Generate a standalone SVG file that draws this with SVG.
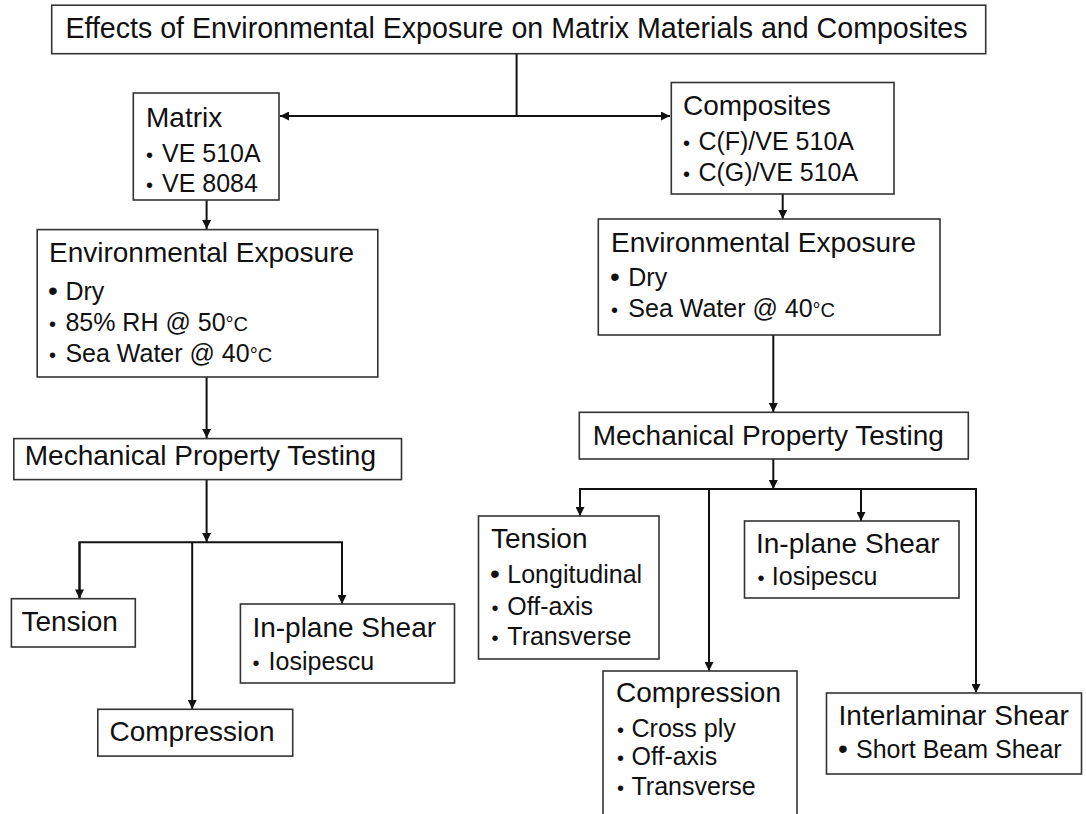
<svg xmlns="http://www.w3.org/2000/svg" width="1086" height="814" viewBox="0 0 1086 814">
<style>
.box{fill:#fff;stroke:#333;stroke-width:1.6}
text{font-family:"Liberation Sans",Arial,sans-serif;fill:#111}
.h{font-size:28px}
.s{font-size:25px}
.b{font-size:20px}
.bb{font-size:28px}
.deg{font-size:20px}
.con{stroke:#111;stroke-width:2;fill:none}
</style>
<defs>
<marker id="ah" viewBox="0 0 10 10" refX="10" refY="5" markerWidth="10" markerHeight="9" markerUnits="userSpaceOnUse" orient="auto-start-reverse">
<path d="M0,0 L10,5 L0,10 z" fill="#111"/>
</marker>
</defs>
<rect width="1086" height="814" fill="#fff"/>

<g id="connectors">
<path class="con" d="M516.6,54 V116"/>
<path class="con" d="M280,116 H670" marker-start="url(#ah)" marker-end="url(#ah)"/>
<path class="con" d="M206.6,200 V229" marker-end="url(#ah)"/>
<path class="con" d="M782.7,194 V219" marker-end="url(#ah)"/>
<path class="con" d="M206.6,377 V438" marker-end="url(#ah)"/>
<path class="con" d="M773.3,335 V412" marker-end="url(#ah)"/>
<path class="con" d="M206.6,480 V542" marker-end="url(#ah)"/>
<path class="con" d="M79.5,599 V542.3 H342 V604" marker-end="url(#ah)"/>
<path class="con" d="M79.5,542.3 V598.5" marker-end="url(#ah)"/>
<path class="con" d="M192.2,542.3 V709" marker-end="url(#ah)"/>
<path class="con" d="M773.3,459 V489" marker-end="url(#ah)"/>
<path class="con" d="M580,516 V489 H976 V693" marker-end="url(#ah)"/>
<path class="con" d="M580,489 V516" marker-end="url(#ah)"/>
<path class="con" d="M709,489 V671" marker-end="url(#ah)"/>
<path class="con" d="M861,489 V521" marker-end="url(#ah)"/>
</g>

<g id="title">
<rect class="box" x="51.7" y="5.2" width="934" height="48.5"/>
<text class="h" x="65.4" y="38" style="font-size:28.6px">Effects of Environmental Exposure on Matrix Materials and Composites</text>
</g>

<g id="matrix">
<rect class="box" x="133.3" y="93" width="145.7" height="107"/>
<text class="h" x="146" y="127">Matrix</text>
<text class="s" y="162"><tspan class="b" x="146">•</tspan><tspan x="162">VE 510A</tspan></text>
<text class="s" y="192"><tspan class="b" x="146">•</tspan><tspan x="162">VE 8084</tspan></text>
</g>

<g id="composites">
<rect class="box" x="671.3" y="82.5" width="222.7" height="111.5"/>
<text class="h" x="683" y="115">Composites</text>
<text class="s" y="150"><tspan class="b" x="683">•</tspan><tspan x="698.4">C(F)/VE 510A</tspan></text>
<text class="s" y="181"><tspan class="b" x="683">•</tspan><tspan x="698.4">C(G)/VE 510A</tspan></text>
</g>

<g id="env-left">
<rect class="box" x="37.2" y="229.6" width="340.6" height="147.4"/>
<text class="h" x="49" y="262">Environmental Exposure</text>
<text class="s" y="299.5"><tspan class="bb" x="48">•</tspan><tspan x="65.4">Dry</tspan></text>
<text class="s" y="331"><tspan class="b" x="49">•</tspan><tspan x="65.4">85% RH @ 50<tspan class="deg">°C</tspan></tspan></text>
<text class="s" y="362"><tspan class="b" x="49">•</tspan><tspan x="65.4">Sea Water @ 40<tspan class="deg">°C</tspan></tspan></text>
</g>

<g id="env-right">
<rect class="box" x="598.3" y="219" width="341.7" height="116"/>
<text class="h" x="611" y="252">Environmental Exposure</text>
<text class="s" y="286"><tspan class="bb" x="610">•</tspan><tspan x="628.3">Dry</tspan></text>
<text class="s" y="317"><tspan class="b" x="611">•</tspan><tspan x="628.3">Sea Water @ 40<tspan class="deg">°C</tspan></tspan></text>
</g>

<g id="mpt-left">
<rect class="box" x="13.8" y="438.6" width="387.7" height="41"/>
<text class="h" x="24.8" y="465">Mechanical Property Testing</text>
</g>

<g id="mpt-right">
<rect class="box" x="579.3" y="412.3" width="389" height="46.7"/>
<text class="h" x="592.7" y="445">Mechanical Property Testing</text>
</g>

<g id="tension-left">
<rect class="box" x="11.4" y="598.7" width="123.9" height="48.3"/>
<text class="h" x="21.4" y="631">Tension</text>
</g>

<g id="compression-left">
<rect class="box" x="97.8" y="709.3" width="194.9" height="46.8"/>
<text class="h" x="109.5" y="741">Compression</text>
</g>

<g id="shear-left">
<rect class="box" x="240.4" y="604" width="214.1" height="79"/>
<text class="h" x="252.4" y="637">In-plane Shear</text>
<text class="s" y="670"><tspan class="b" x="252.4">•</tspan><tspan x="268.6">Iosipescu</tspan></text>
</g>

<g id="tension-right">
<rect class="box" x="478.5" y="516" width="180.5" height="143"/>
<text class="h" x="491" y="548">Tension</text>
<text class="s" y="583"><tspan class="bb" x="490">•</tspan><tspan x="507.3">Longitudinal</tspan></text>
<text class="s" y="615"><tspan class="b" x="491.5">•</tspan><tspan x="507.3">Off-axis</tspan></text>
<text class="s" y="645"><tspan class="b" x="491.5">•</tspan><tspan x="507.3">Transverse</tspan></text>
</g>

<g id="compression-right">
<rect class="box" x="603" y="671" width="194" height="160"/>
<text class="h" x="616" y="702">Compression</text>
<text class="s" y="737"><tspan class="b" x="617">•</tspan><tspan x="631.5">Cross ply</tspan></text>
<text class="s" y="765"><tspan class="b" x="617">•</tspan><tspan x="631.5">Off-axis</tspan></text>
<text class="s" y="795"><tspan class="b" x="617">•</tspan><tspan x="631.5">Transverse</tspan></text>
</g>

<g id="shear-right">
<rect class="box" x="744.5" y="521" width="214.5" height="77"/>
<text class="h" x="756" y="553">In-plane Shear</text>
<text class="s" y="585"><tspan class="b" x="757.5">•</tspan><tspan x="771.8">Iosipescu</tspan></text>
</g>

<g id="interlaminar">
<rect class="box" x="826.5" y="693" width="255" height="81"/>
<text class="h" x="838.6" y="725">Interlaminar Shear</text>
<text class="s" y="758"><tspan class="bb" x="838">•</tspan><tspan x="856">Short Beam Shear</tspan></text>
</g>
</svg>
